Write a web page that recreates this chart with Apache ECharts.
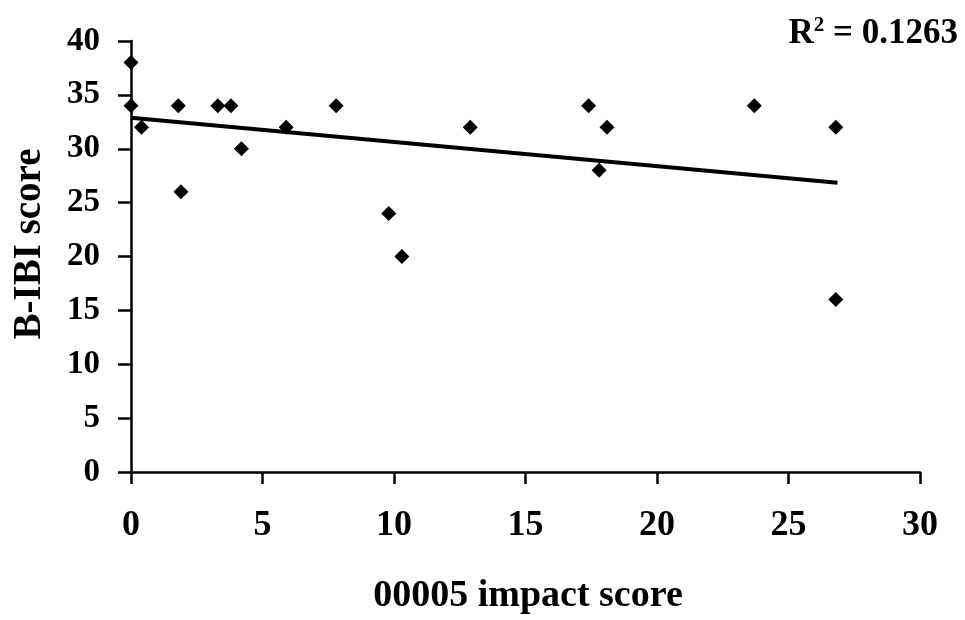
<!DOCTYPE html>
<html>
<head>
<meta charset="utf-8">
<script src="https://cdn.jsdelivr.net/npm/echarts@6/dist/echarts.min.js"></script>
<style>html,body{margin:0;padding:0;background:#fff;}#c{width:965px;height:620px;}</style>
</head>
<body>
<div id="c"></div>
<script>
var impactScore = [0, 0, 0.4, 1.8, 1.9, 3.3, 3.8, 4.2, 5.9, 7.8, 9.8, 10.3, 12.9, 17.4, 17.8, 18.1, 23.7, 26.8, 26.8];
var bibiScore   = [38, 34, 32, 34, 26, 34, 34, 30, 32, 34, 24, 20, 32, 34, 28, 32, 34, 32, 16];
var trendX = [0, 26.86];
var trendY = [32.87, 26.84];
var xTicks = [0, 5, 10, 15, 20, 25, 30];
var yTicks = [0, 5, 10, 15, 20, 25, 30, 35, 40];
var rSquaredText = '0.1263';

var points = impactScore.map(function (x, i) { return [x, bibiScore[i]]; });
var trend = trendX.map(function (x, i) { return [x, trendY[i]]; });

var FONT = '"Liberation Serif", "Times New Roman", serif';
var chart = echarts.init(document.getElementById('c'));
chart.setOption({
  animation: false,
  backgroundColor: '#fff',
  grid: { left: 131, right: 45, top: 41, bottom: 148 },
  xAxis: {
    type: 'value',
    min: xTicks[0], max: xTicks[xTicks.length - 1], interval: 5,
    axisLine: { show: true, onZero: false, lineStyle: { color: '#000', width: 2.5 } },
    axisTick: { show: true, inside: false, length: 12, lineStyle: { color: '#000', width: 2.5 } },
    splitLine: { show: false },
    axisLabel: { color: '#000', fontFamily: FONT, fontWeight: 'bold', fontSize: 36, margin: 36 }
  },
  yAxis: {
    type: 'value',
    min: yTicks[0], max: yTicks[yTicks.length - 1], interval: 5,
    axisLine: { show: true, onZero: false, lineStyle: { color: '#000', width: 2.5 } },
    axisTick: { show: true, inside: false, length: 13, lineStyle: { color: '#000', width: 2.5 } },
    splitLine: { show: false },
    axisLabel: { color: '#000', fontFamily: FONT, fontWeight: 'bold', fontSize: 33, margin: 31 }
  },
  graphic: [
    {
      type: 'text', x: 30, y: 244, rotation: Math.PI / 2,
      style: { text: 'B-IBI score', fill: '#000', font: 'bold 39px ' + FONT, align: 'center', verticalAlign: 'middle' }
    },
    {
      type: 'text', x: 528, y: 596,
      style: { text: '00005 impact score', fill: '#000', font: 'bold 38px ' + FONT, align: 'center', verticalAlign: 'middle' }
    },
    {
      type: 'text', x: 958, y: 34,
      style: {
        text: '{r|R}{sup|2}{r| = ' + rSquaredText + '}',
        align: 'right', verticalAlign: 'middle',
        rich: {
          r: { fill: '#000', fontFamily: FONT, fontWeight: 'bold', fontSize: 35 },
          sup: { fill: '#000', fontFamily: FONT, fontWeight: 'bold', fontSize: 21, verticalAlign: 'top', padding: [0, 0, 16, 0] }
        }
      }
    }
  ],
  series: [
    {
      type: 'line', data: trend, symbol: 'none', silent: true,
      lineStyle: { color: '#000', width: 4 }, z: 2
    },
    {
      type: 'scatter', data: points, symbol: 'diamond', symbolSize: 15,
      itemStyle: { color: '#000', opacity: 1 }, z: 3
    }
  ]
});
</script>
</body>
</html>
